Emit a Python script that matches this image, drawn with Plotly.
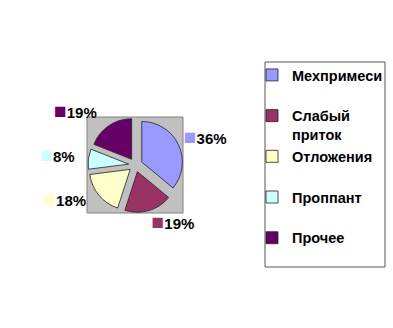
import plotly.graph_objects as go

categories = ["Мехпримеси", "Слабый приток", "Отложения", "Проппант", "Прочее"]
values = [36, 19, 18, 8, 19]
colors = ["#9999FF", "#993366", "#FFFFCC", "#CCFFFF", "#660066"]

W, H = 393, 328

def px(x):
    return x / W

def py(y):
    return 1 - y / H

legend_labels = [c.replace(" ", "<br>") if " " in c else c + "<br> " for c in categories]
texts = ["<span style='color:%s;font-size:21px'>■</span>%s" % (c, "%{percent:.0%}") for c in colors]

pie_common = dict(
    values=values,
    sort=False,
    direction="clockwise",
    rotation=0,
    pull=[0.17] * len(values),
)

fig = go.Figure()
fig.add_trace(go.Pie(
    labels=legend_labels,
    marker=dict(colors=colors, line=dict(color="#222222", width=0.8)),
    textinfo="none",
    domain=dict(x=[px(88), px(183)], y=[py(213), py(117)]),
    hoverinfo="label+percent",
    **pie_common,
))
# label layer: same data, slightly larger radius so labels sit further out
fig.add_trace(go.Pie(
    labels=categories,
    marker=dict(colors=["rgba(0,0,0,0)"] * len(values), line=dict(width=0)),
    texttemplate=texts,
    textposition="outside",
    textfont=dict(family="Liberation Sans", size=15, color="black", weight="bold"),
    domain=dict(x=[px(80), px(183)], y=[py(212.5), py(109.5)]),
    hoverinfo="skip",
    showlegend=False,
    **pie_common,
))

fig.update_layout(
    width=W, height=H,
    margin=dict(l=0, r=0, t=0, b=0),
    paper_bgcolor="white",
    plot_bgcolor="white",
    showlegend=True,
    legend=dict(
        x=px(252), y=py(59), xanchor="left", yanchor="top",
        font=dict(family="Liberation Sans", size=14.5, color="black", weight="bold"),
        borderwidth=0, bgcolor="rgba(0,0,0,0)",
        valign="top", itemwidth=30,
    ),
    shapes=[
        dict(type="rect", xref="paper", yref="paper", x0=px(87), x1=px(183), y0=py(213), y1=py(117),
             fillcolor="#C0C0C0", line=dict(color="#808080", width=1), layer="below"),
        dict(type="rect", xref="paper", yref="paper", x0=px(265), x1=px(385), y0=py(267), y1=py(62),
             fillcolor="rgba(0,0,0,0)", line=dict(color="#555555", width=1), layer="below"),
    ],
)

fig.write_html("out.html")
